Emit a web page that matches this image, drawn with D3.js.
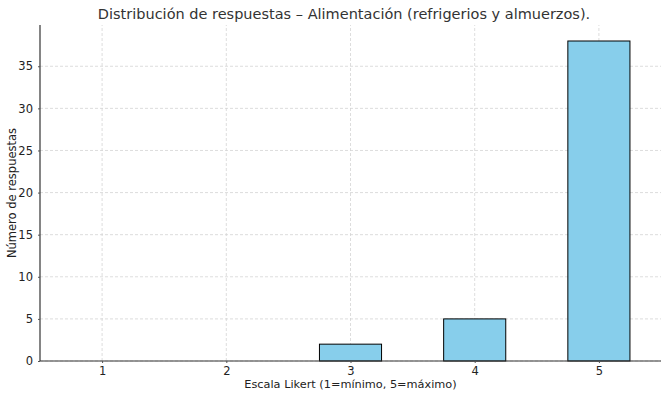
<!DOCTYPE html>
<html>
<head>
<meta charset="utf-8">
<script src="https://cdn.jsdelivr.net/npm/d3@7"></script>
<style>
  body { margin: 0; background: #fff; }
  svg { font-family: "DejaVu Sans", sans-serif; }
</style>
</head>
<body>
<svg id="chart" width="666" height="397"></svg>
<script>
const categories = [1, 2, 3, 4, 5]
const counts = [0, 0, 2, 5, 38]
const yTicks = [0, 5, 10, 15, 20, 25, 30, 35]
const title = 'Distribución de respuestas – Alimentación (refrigerios y almuerzos).'
const xTitle = 'Escala Likert (1=mínimo, 5=máximo)'
const yTitle = 'Número de respuestas'

const margin = { top: 25, right: 5, bottom: 36, left: 40 }
const width = 666, height = 397
const svg = d3.select('#chart')

const barWidth = 0.5
const x = d3.scaleLinear()
  .domain([0.5, 5.5])
  .range([margin.left, width - margin.right])
const y = d3.scaleLinear()
  .domain([0, d3.max(counts) * 1.05])
  .range([height - margin.bottom, margin.top])

// grid
const grid = svg.append('g').attr('class', 'grid')
grid.selectAll('line.v').data(categories).enter().append('line')
  .attr('x1', d => x(d)).attr('x2', d => x(d))
  .attr('y1', y.range()[0]).attr('y2', y.range()[1])
  .attr('stroke', '#d4d4d4').attr('stroke-width', 0.8).attr('stroke-dasharray', '3,2')
grid.selectAll('line.h').data(yTicks).enter().append('line')
  .attr('x1', x.range()[0]).attr('x2', x.range()[1])
  .attr('y1', d => y(d)).attr('y2', d => y(d))
  .attr('stroke', '#d4d4d4').attr('stroke-width', 0.8).attr('stroke-dasharray', '3,2')

// bars
svg.selectAll('rect.bar').data(categories).enter().append('rect')
  .attr('class', 'bar')
  .attr('x', d => x(d - barWidth / 2))
  .attr('width', d => x(d + barWidth / 2) - x(d - barWidth / 2))
  .attr('y', (d, i) => y(counts[i]))
  .attr('height', (d, i) => y(0) - y(counts[i]))
  .attr('fill', '#87ceeb')
  .attr('stroke', '#000')
  .attr('stroke-width', 1)

// axes
const xAxis = svg.append('g')
  .attr('transform', `translate(0,${y(0)})`)
  .call(d3.axisBottom(x).tickValues(categories).tickFormat(d3.format('d')).tickSize(2).tickPadding(4))
const yAxis = svg.append('g')
  .attr('transform', `translate(${margin.left},0)`)
  .call(d3.axisLeft(y).tickValues(yTicks).tickSize(2).tickPadding(5))

;[xAxis, yAxis].forEach(a => {
  a.select('.domain').attr('stroke', '#333').attr('stroke-width', 1.2)
  a.selectAll('.tick line').attr('stroke', '#555')
  a.selectAll('.tick text').attr('font-size', 11.5).attr('fill', '#222')
  a.attr('font-family', null)
})
xAxis.select('.domain').attr('d', `M${x.range()[0]},0H${x.range()[1]}`)
yAxis.select('.domain').attr('d', `M0,${y.range()[0]}V${y.range()[1]}`)

// titles
svg.append('text')
  .attr('x', 344).attr('y', 19)
  .attr('text-anchor', 'middle').attr('font-size', 14.5).attr('fill', '#333')
  .text(title)
svg.append('text')
  .attr('x', (x.range()[0] + x.range()[1]) / 2).attr('y', 388)
  .attr('text-anchor', 'middle').attr('font-size', 11.3).attr('fill', '#222')
  .text(xTitle)
svg.append('text')
  .attr('transform', `translate(16,${(y.range()[0] + y.range()[1]) / 2}) rotate(-90)`)
  .attr('text-anchor', 'middle').attr('font-size', 11.5).attr('fill', '#222')
  .text(yTitle)
</script>
</body>
</html>
